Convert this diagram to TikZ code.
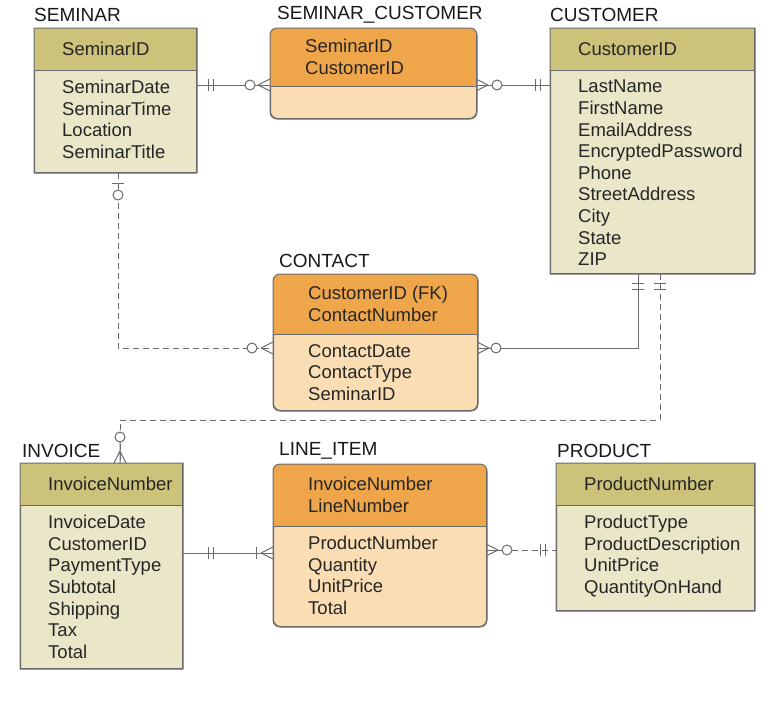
\documentclass[tikz,border=0pt]{standalone}
\usepackage{fontspec}
\setmainfont{Liberation Sans}
\begin{document}
\definecolor{oliveH}{HTML}{CCC27A}
\definecolor{oliveB}{HTML}{EAE6C8}
\definecolor{orangeH}{HTML}{EFA64A}
\definecolor{orangeB}{HTML}{FADDB2}
\definecolor{ln}{HTML}{6B6B6B}
\def\oliveR{0.01pt}\def\orangeR{7pt}
\def\oliveO{28}\def\orangeO{35}
\newcommand\erbox[9]{%
  \node[anchor=north west,minimum width=#4,minimum height=#5+#6,inner sep=0,
        draw=ln,line width=1pt,fill=#7B,rounded corners=\csname #7R\endcsname] (#1) at (#2,#3) {};
  \begin{scope}
    \clip[rounded corners=\csname #7R\endcsname] (#1.north west) rectangle (#1.south east);
    \fill[#7H] (#1.north west) rectangle ++(#4,#5);
  \end{scope}
  \draw[ln,line width=1pt,rounded corners=\csname #7R\endcsname] (#1.north west) rectangle (#1.south east);
  \draw[ln,line width=1pt] ([yshift=-#5]#1.north west) -- ([yshift=-#5]#1.north east);
  \node[txt,anchor=west] (#1-h) at (#2+\csname #7O\endcsname,#3+#5/2) {#8};
  \node[txt,anchor=north west] (#1-b) at (#2+\csname #7O\endcsname,#3+#5+10) {#9};
}
\begin{tikzpicture}[x=1pt,y=-1pt,
  txt/.style={font=\fontsize{18.5}{21.6}\selectfont,align=left,inner sep=0,text=black!85},
  ttl/.style={font=\fontsize{19}{20}\selectfont,anchor=west,inner sep=0,text=black!90},
  con/.style={ln,line width=1pt},
  dsh/.style={con,dash pattern=on 6pt off 4pt}]
\useasboundingbox (0,0) rectangle (780,713);
\erbox{sem}{34}{28}{162}{42}{102}{olive}{SeminarID}{SeminarDate\\SeminarTime\\Location\\SeminarTitle}
\erbox{sc}{270}{28}{206}{58}{32}{orange}{SeminarID\\CustomerID}{}
\erbox{cus}{550}{28}{204}{42}{203}{olive}{CustomerID}{LastName\\FirstName\\EmailAddress\\EncryptedPassword\\Phone\\StreetAddress\\City\\State\\ZIP}
\erbox{con}{273}{274}{204}{60}{76}{orange}{CustomerID (FK)\\ContactNumber}{ContactDate\\ContactType\\SeminarID}
\erbox{inv}{20}{463}{162}{42}{163}{olive}{InvoiceNumber}{InvoiceDate\\CustomerID\\PaymentType\\Subtotal\\Shipping\\Tax\\Total}
\erbox{li}{273}{464}{213}{62}{100}{orange}{InvoiceNumber\\LineNumber}{ProductNumber\\Quantity\\UnitPrice\\Total}
\erbox{pro}{556}{463}{198}{42}{105}{olive}{ProductNumber}{ProductType\\ProductDescription\\UnitPrice\\QuantityOnHand}
\node[ttl] (t1) at (34,15) {SEMINAR};
\node[ttl] (t2) at (277,15) {SEMINAR\_CUSTOMER};
\node[ttl] (t3) at (550,15) {CUSTOMER};
\node[ttl] (t4) at (279,261) {CONTACT};
\node[ttl] (t5) at (22,451) {INVOICE};
\node[ttl] (t6) at (279,451) {LINE\_ITEM};
\node[ttl] (t7) at (557,451) {PRODUCT};
% 1 SEMINAR - SEMINAR_CUSTOMER
\draw[con] (sem.east|-0,85) -- (sc.west|-0,85);
\draw[con] (208,79)--(208,91) (213,79)--(213,91);
\draw[con] (258,85)--(270,79) (258,85)--(270,91);
\draw[con,fill=white] (250,85) circle (5);
% 2 SEMINAR_CUSTOMER - CUSTOMER
\draw[con] (sc.east|-0,85) -- (cus.west|-0,85);
\draw[con] (488,85)--(476,79) (488,85)--(476,91);
\draw[con,fill=white] (497,85) circle (5);
\draw[con] (535,79)--(535,91) (540,79)--(540,91);
% 3 SEMINAR - CONTACT
\draw[dsh] (sem.south-|118,0) -- (118,348) -- (con.west|-0,348);
\draw[con] (112,183)--(124,183);
\draw[con,fill=white] (118,195) circle (5);
\draw[con] (261,348)--(273,342) (261,348)--(273,354);
\draw[con,fill=white] (252,348) circle (5);
% 4 CONTACT - CUSTOMER
\draw[con] (con.east|-0,348) -- (638,348) -- (cus.south-|638,0);
\draw[con] (489,348)--(477,342) (489,348)--(477,354);
\draw[con,fill=white] (496,348) circle (5);
\draw[con] (632,283)--(644,283) (632,289)--(644,289);
% 5 CUSTOMER - INVOICE
\draw[dsh] (cus.south-|660,0) -- (660,420) -- (120,420) -- (inv.north-|120,0);
\draw[con] (654,283)--(666,283) (654,289)--(666,289);
\draw[con,fill=white] (120,437) circle (5);
\draw[con] (120,451)--(114,463) (120,451)--(126,463) (120,442)--(120,463);
% 6 INVOICE - LINE_ITEM
\draw[con] (inv.east|-0,553) -- (li.west|-0,553);
\draw[con] (208,547)--(208,559) (213,547)--(213,559) (256,547)--(256,559);
\draw[con] (261,553)--(273,547) (261,553)--(273,559);
% 7 LINE_ITEM - PRODUCT
\draw[con] (li.east|-0,550) -- (502,550);
\draw[dsh] (512,550) -- (pro.west|-0,550);
\draw[con] (498,550)--(486,544) (498,550)--(486,556);
\draw[con,fill=white] (507,550) circle (5);
\draw[con] (540,544)--(540,556) (545,544)--(545,556);
\end{tikzpicture}
\end{document}
